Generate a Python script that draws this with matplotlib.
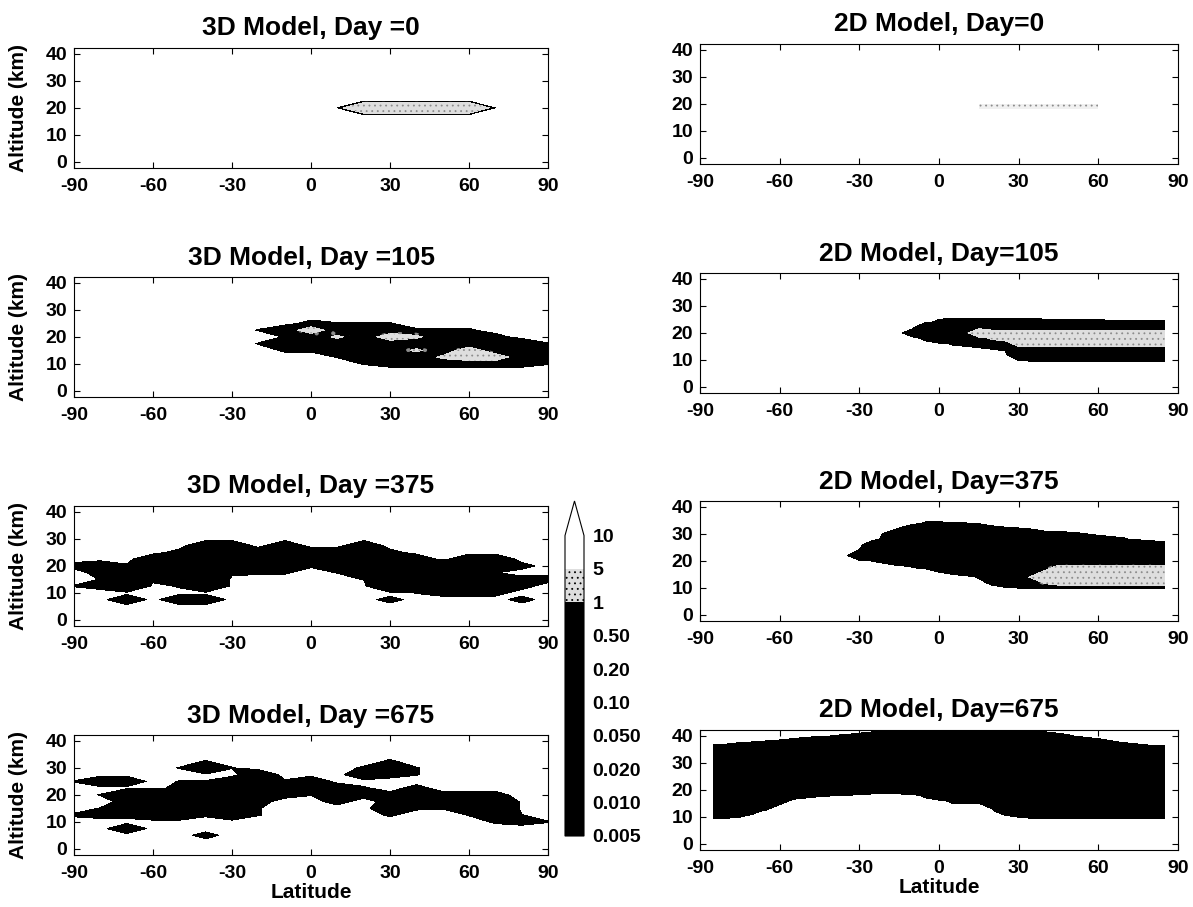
import numpy as np
import matplotlib
matplotlib.use("Agg")
import matplotlib.pyplot as plt

plt.rcParams["font.family"] = ["Liberation Sans", "DejaVu Sans"]
plt.rcParams["font.weight"] = "bold"
plt.rcParams["axes.unicode_minus"] = False
plt.rcParams["hatch.color"] = "#8c8c8c"
plt.rcParams["hatch.linewidth"] = 0.6

# colour bar levels (tracer mixing ratio)
levels = [0.005, 0.01, 0.02, 0.05, 0.1, 0.2, 0.5, 1, 5, 10]
level_labels = ["0.005", "0.010", "0.020", "0.050", "0.10", "0.20", "0.50", "1", "5", "10"]

# model grids
lat_3d = [-90, -80, -70, -60, -50, -40, -30, -20, -10, 0, 10, 20, 30, 40, 50, 60, 70, 80, 90]
alt_3d = [0, 2.5, 5, 7.5, 10, 12.5, 15, 17.5, 20, 22.5, 25, 27.5, 30, 32.5, 35, 37.5, 40]
lat_2d = [-85, -80, -75, -70, -65, -60, -55, -50, -45, -40, -35, -30, -25, -20, -15, -10, -5,
          0, 5, 10, 15, 20, 25, 30, 35, 40, 45, 50, 55, 60, 65, 70, 75, 80, 85]
alt_2d = [0, 2, 4, 6, 8, 10, 12, 14, 16, 18, 20, 22, 24, 26, 28, 30, 32, 34, 36, 38, 40, 42, 44]

# value of one grid point, one character per point
code_value = {".": 0.0, "1": 0.0056, "2": 0.0067, "3": 0.01, "4": 0.02, "5": 0.05,
              "h": 1.3, "g": 2.0, "G": 4.5, "w": 8.0, "-": np.nan}

# one string per latitude (south to north), altitude going up
day0_3d = [
    ".................", ".................", ".................", ".................",
    ".................", ".................", ".................", ".................",
    ".................", ".................", ".................",
    "........G........", "........G........", "........G........", "........G........",
    "........G........",
    ".................", ".................", ".................",
]
day105_3d = [
    ".................", ".................", ".................", ".................",
    ".................", ".................", ".................",
    ".......1.1.......",  # -20
    "......2314.......",  # -10
    "......233g3......",  # 0
    ".....133h31......",  # 10
    "....1333331......",  # 20
    "....3333g31......",  # 30
    "....33h3h2.......",  # 40
    "....3h3332.......",  # 50
    "....3gg332.......",  # 60
    "....3g333........",  # 70
    "....3334.........",  # 80
    "....1331.........",  # 90
]
day375_3d = [
    ".....1..3........",  # -90
    ".....3134........",  # -80
    "...4.5332........",  # -70
    "......3334.......",  # -60
    "...4.233333......",  # -50
    "...4.5533334.....",  # -40
    ".......33334.....",  # -30
    ".......2334......",  # -20
    ".......23334.....",  # -10
    "........234......",  # 0
    ".......1334......",  # 10
    "......133334.....",  # 20
    "...3.533333......",  # 30
    "....133334.......",  # 40
    "....33335........",  # 50
    "....333334.......",  # 60
    "....333134.......",  # 70
    "...3.33.3........",  # 80
    "......3..........",  # 90
]
day675_3d = [
    ".....2....1......",  # -90
    ".....31.1.4......",  # -80
    "...4.3335.4......",  # -70
    ".....4335........",  # -60
    ".....433331.1....",  # -50
    "..3..233331.51...",  # -40
    ".....433334.1....",  # -30
    ".....1133334.....",  # -20
    "........332......",  # -10
    "........134......",  # 0
    ".......334.......",  # 10
    "........32.42....",  # 20
    ".....2433..332...",  # 30
    "......2333.11....",  # 40
    "......133........",  # 50
    ".....1333........",  # 60
    "....23553........",  # 70
    "....31...........",  # 80
    "....1............",  # 90
]

day0_2d = ["-----------------------"] * 20 + ["---------gg------------"] * 10 + ["-----------------------"] * 5
day105_2d = ["......................."] * 15 + [
    "..........4............",  # -10
    ".........335...........",  # -5
    ".........5333..........",  # 0
    "........23334..........",  # 5
    "........33334..........",  # 10
    "........43G34..........",  # 15
    ".......13hg34..........",  # 20
    ".......23gg34..........",  # 25
    ".....153ggg34..........",  # 30
    ".....233ggg34..........",  # 35
    ".....233ggg33..........",  # 40
    ".....233ggg33..........",  # 45
    ".....233ggg33..........",  # 50
    ".....233ggg33..........",  # 55
    ".....233ggg33..........",  # 60
    ".....233ggg32..........",  # 65
    ".....233ggg32..........",  # 70
    ".....233ggg32..........",  # 75
    ".....233ggg32..........",  # 80
    ".....233ggg32..........",  # 85
]
day375_2d = ["......................."] * 11 + [
    "...........51..........",  # -30
    "..........1334.........",  # -25
    "..........333332.......",  # -20
    "..........5333331......",  # -15
    ".........23333334......",  # -10
    ".........333333332.....",  # -5
    "........1333333332.....",  # 0
    "........3333333331.....",  # 5
    "........4333333331.....",  # 10
    ".......2333333335......",  # 15
    "......33333333333......",  # 20
    "......53333333332......",  # 25
    ".....133333333331......",  # 30
    ".....13h33333335.......",  # 35
    ".....1hgh3333333.......",  # 40
    ".....1gggh333333.......",  # 45
    ".....1gggh333332.......",  # 50
    ".....1gggh333331.......",  # 55
    ".....1gggh33334........",  # 60
    ".....1gggh33333........",  # 65
    ".....1gggh33332........",  # 70
    ".....1gggh3335.........",  # 75
    ".....1gggh3334.........",  # 80
    ".....1gggh3333.........",  # 85
]
day675_2d = [
    ".....23333333333333....",  # -85
    ".....23333333333333....",  # -80
    ".....13333333333334....",  # -75
    "......3333333333335....",  # -70
    ".......4333333333331...",  # -65
    "........433333333332...",  # -60
    ".........43333333333...",  # -55
    ".........33333333334...",  # -50
    ".........23333333335...",  # -45
    ".........133333333331..",  # -40
    ".........133333333332..",  # -35
    "..........53333333333..",  # -30
    "..........43333333334..",  # -25
    "..........433333333332.",  # -20
    "..........4333333333333",  # -15
    "..........5333333333333",  # -10
    ".........33333333333333",  # -5
    ".........53333333333333",  # 0
    "........333333333333333",  # 5
    "........333333333333333",  # 10
    "........333333333333333",  # 15
    ".......3333333333333333",  # 20
    "......43333333333333333",  # 25
    ".....133333333333333333",  # 30
    ".....233333333333333333",  # 35
    ".....2333333333333334..",  # 40
    ".....2333333333333333..",  # 45
    ".....2333333333333331..",  # 50
    ".....233333333333334...",  # 55
    ".....233333333333333...",  # 60
    ".....233333333333331...",  # 65
    ".....23333333333334....",  # 70
    ".....23333333333333....",  # 75
    ".....23333333333332....",  # 80
    ".....23333333333332....",  # 85
]


def field(columns, lat, alt):
    for i, col in enumerate(columns):
        assert len(col) == len(alt), (i, col, len(col))
    assert len(columns) == len(lat), len(columns)
    return np.array([[code_value[c] for c in col] for col in columns]).T


W, H = 1193, 907


def rect(left, top, width, height):
    return [left / W, 1 - (top + height) / H, width / W, height / H]


band_colors = ["black"] * 7 + ["#dedede", "white", "white"]
band_hatches = [None] * 6 + [".", "...", None, None]

panels = [
    ("3D Model, Day =0", lat_3d, alt_3d, day0_3d, (74, 48, 474, 120)),
    ("3D Model, Day =105", lat_3d, alt_3d, day105_3d, (74, 277, 474, 120)),
    ("3D Model, Day =375", lat_3d, alt_3d, day375_3d, (74, 506, 474, 120)),
    ("3D Model, Day =675", lat_3d, alt_3d, day675_3d, (74, 735, 474, 120)),
    ("2D Model, Day=0", lat_2d, alt_2d, day0_2d, (700, 44, 478, 120)),
    ("2D Model, Day=105", lat_2d, alt_2d, day105_2d, (700, 273, 478, 120)),
    ("2D Model, Day=375", lat_2d, alt_2d, day375_2d, (700, 501, 478, 120)),
    ("2D Model, Day=675", lat_2d, alt_2d, day675_2d, (700, 730, 478, 120)),
]

fig = plt.figure(figsize=(W / 100, H / 100), dpi=100)

cs = None
for i, (title, lat, alt, cols, box) in enumerate(panels):
    ax = fig.add_axes(rect(*box))
    z = field(cols, lat, alt)
    # the 2D start-up cloud is only a faint stipple in the original
    alpha = 0.45 if i == 4 else 1.0
    c = ax.contourf(lat, alt, z, levels=levels, colors=band_colors,
                    hatches=band_hatches, extend="max", antialiased=False, alpha=alpha)
    if i != 4:
        cs = c
    ax.set_xlim(-90, 90)
    ax.set_ylim(-2.3, 42.2)
    ax.set_xticks([-90, -60, -30, 0, 30, 60, 90])
    ax.set_yticks([0, 10, 20, 30, 40])
    ax.tick_params(direction="in", length=4, width=0.8, right=True, top=True,
                   labelsize=14, pad=5)
    ax.tick_params(axis="x", pad=7)
    for sp in ax.spines.values():
        sp.set_linewidth(0.8)
    ax.set_title(title, fontsize=19, fontweight="bold", pad=9)
    if i < 4:
        ax.set_ylabel("Altitude (km)", fontsize=15, fontweight="bold")
        ax.yaxis.set_label_coords(-0.097, 0.5)
    if i in (3, 7):
        ax.set_xlabel("Latitude", fontsize=15, fontweight="bold", labelpad=1)

cax = fig.add_axes(rect(565, 501, 19, 335))
cb = fig.colorbar(cs, cax=cax, ticks=levels, extendfrac=0.115)
cb.set_ticklabels(level_labels)
cb.ax.tick_params(length=0, labelsize=14, pad=6)
cb.outline.set_linewidth(0.8)

fig.savefig("out.png", dpi=100)
plt.close(fig)
